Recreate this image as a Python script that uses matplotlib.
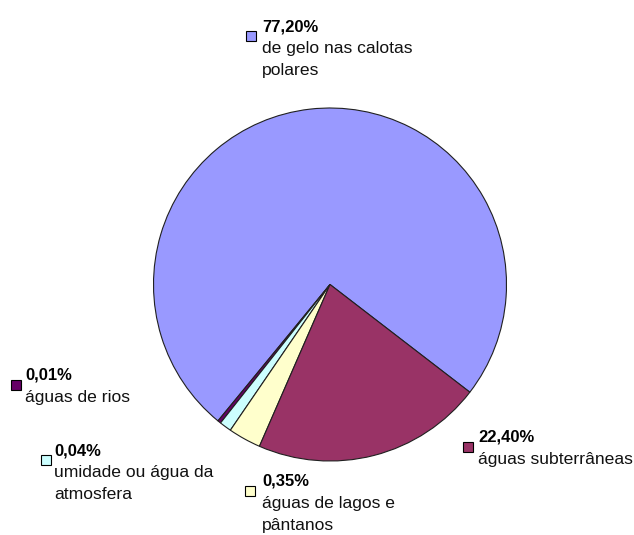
import matplotlib
matplotlib.use('Agg')
import matplotlib.pyplot as plt
from matplotlib.patches import Rectangle

# slice sizes as drawn in the chart (the printed labels differ from the drawn areas)
sizes = [74.5, 0.3, 1.1, 3.0, 21.1]
pct_labels = ['77,20%', '0,01%', '0,04%', '0,35%', '22,40%']
descriptions = [['de gelo nas calotas', 'polares'],
                ['águas de rios'],
                ['umidade ou água da', 'atmosfera'],
                ['águas de lagos e', 'pântanos'],
                ['águas subterrâneas']]
colors = ['#9999FF', '#660066', '#CCFFFF', '#FFFFCC', '#993366']

W, H = 634, 535
plt.rcParams['font.family'] = ['Liberation Sans', 'DejaVu Sans']

fig = plt.figure(figsize=(W / 100, H / 100), dpi=100)

cx, cy, r = 330, 284.5, 176.5
ax = fig.add_axes([(cx - r) / W, 1 - (cy + r) / H, 2 * r / W, 2 * r / H])
ax.pie(sizes, colors=colors, startangle=-37.6, counterclock=True,
       wedgeprops=dict(edgecolor='#202020', linewidth=0.8))
ax.set_xlim(-1, 1)
ax.set_ylim(-1, 1)
ax.axis('off')

# label layout: square key left x, text x, baseline of bold line (= key top)
layout = [
    (246, 262, 31),
    (11, 25, 380),
    (41, 54, 455),
    (245, 262, 486),
    (463, 478, 442),
]


def fx(x):
    return x / W


def fy(y):
    return 1 - y / H


for (sx, tx, base), pct, desc, col in zip(layout, pct_labels, descriptions, colors):
    fig.patches.append(Rectangle((fx(sx), fy(base + 10)), 10 / W, 10 / H,
                                 transform=fig.transFigure, facecolor=col,
                                 edgecolor='black', linewidth=0.8))
    fig.text(fx(tx), fy(base), pct, fontsize=12, fontweight='bold',
             family=['Liberation Sans Narrow', 'Liberation Sans'],
             va='baseline', ha='left')
    for i, line in enumerate(desc):
        fig.text(fx(tx), fy(base + 22 * (i + 1)), line, fontsize=12.6,
                 va='baseline', ha='left', color='#111111')

fig.savefig('out.png', dpi=100)
